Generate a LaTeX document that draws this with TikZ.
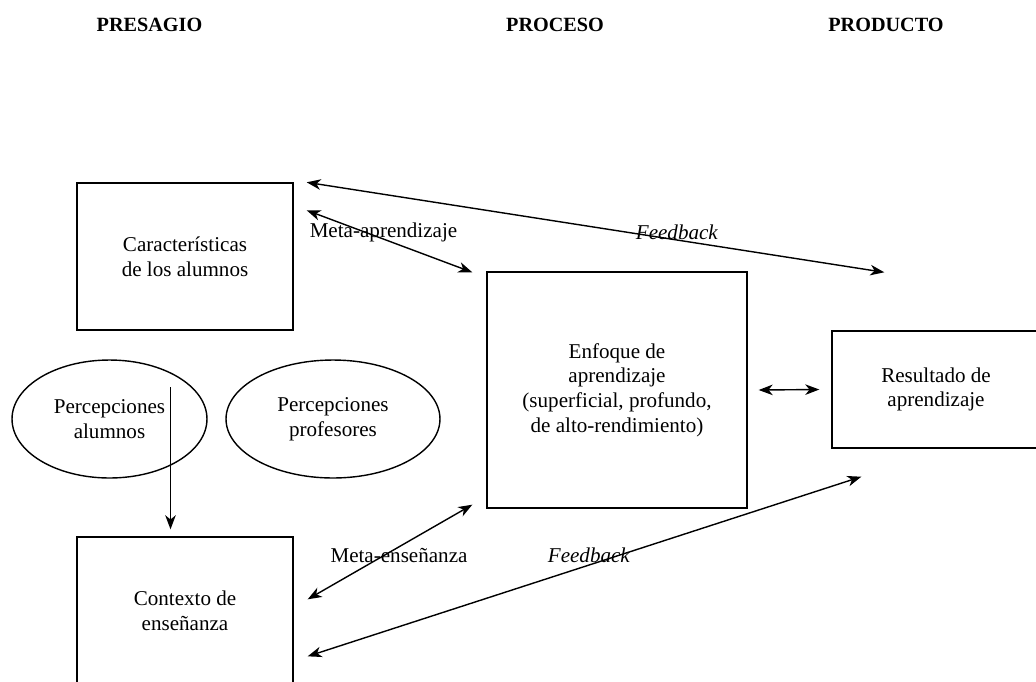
\documentclass[tikz,border=0pt]{standalone}
\usepackage{fontspec}
\setmainfont{Liberation Serif}
\usepackage{tikz}
\usetikzlibrary{arrows,arrows.meta,positioning,calc}
\usetikzlibrary{shapes.geometric}

\begin{document}
\begin{tikzpicture}[
			x=0.02cm, y=-0.02cm,
			>={Stealth[length=8pt,width=6pt,inset=2.4pt]},
			font=\fontsize{12}{14}\selectfont,
			line width=0.8pt,
			caja/.style={
				rectangle,
				draw=black,
				align=center,
				inner sep=0pt
			},
			percep/.style={
				ellipse,
				draw=black,
				align=center,
				inner sep=0pt,
				minimum height=2.36cm
			},
			titulo/.style={
				font=\fontsize{11.5}{14}\selectfont\bfseries
			},
			etiq/.style={
				inner sep=1pt
			}
			]
			\useasboundingbox (0,0) rectangle (1036,681);
			
			% titulos de las columnas
			\node [titulo] (presagio) at (149.5,25) {PRESAGIO};
			\node [titulo] (proceso) at (555,25) {PROCESO};
			\node [titulo] (producto) at (886,25) {PRODUCTO};
			
			% bloques
			\node [caja, minimum width=4.32cm, minimum height=2.94cm] (caract) at (185,256.5)
			{Características\\de los alumnos};
			
			\node [percep, minimum width=3.9cm] (alumnos) at (109.5,419)
			{Percepciones\\alumnos};
			
			\node [percep, minimum width=4.28cm] (profes) at (333,419)
			{Percepciones\\profesores};
			
			\node [caja, minimum width=4.32cm, minimum height=2.94cm] (contexto) at (185,610.5)
			{Contexto de\\enseñanza};
			
			\node [caja, minimum width=5.2cm, minimum height=4.72cm] (enfoque) at (617,390)
			{Enfoque de\\aprendizaje\\(superficial, profundo,\\de alto-rendimiento)};
			
			\node [caja, minimum width=4.16cm, minimum height=2.34cm] (resultado) at (936,389.5)
			{Resultado de\\aprendizaje};
			
			% flechas
			\draw [<->] ($(caract.north east)+(13,0)$) -- ($(resultado.north west)+(53,-58)$);
			\draw [<->] ($(caract.north east)+(13,28)$) -- ($(enfoque.north west)+(-14,1)$);
			\draw [<->] ($(enfoque.east)+(11,0)$) -- ($(resultado.west)+(-12,0)$);
			\draw [->] ($(alumnos.center)+(61,-32)$) coordinate (va) -- ($(va |- contexto.north)+(0,-7)$);
			\draw [<->] ($(contexto.north east)+(14,63)$) -- ($(enfoque.south west)+(-14,-4)$);
			\draw [<->] ($(contexto.north east)+(14,120)$) -- ($(resultado.south west)+(30,28)$);
			
			% etiquetas
			\node [etiq] (metaap) at (383.5,232) {Meta-aprendizaje};
			\node [etiq] (fbsup) at (677,232) {\textit{Feedback}};
			\node [etiq] (metaens) at (399,555) {Meta-enseñanza};
			\node [etiq] (fbinf) at (589,555) {\textit{Feedback}};
			
\end{tikzpicture}
\end{document}
